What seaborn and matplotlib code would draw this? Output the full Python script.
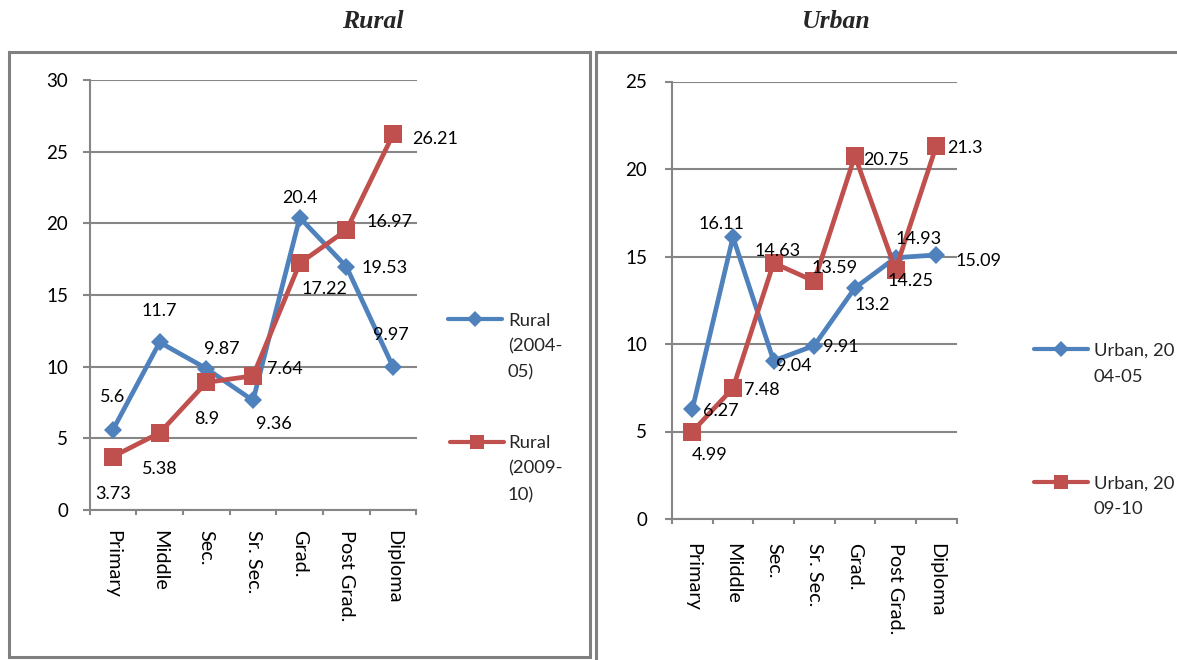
import numpy as np
import pandas as pd
import matplotlib
matplotlib.use("Agg")
import matplotlib.pyplot as plt
from matplotlib.lines import Line2D
from matplotlib.patches import Rectangle
import seaborn as sns

# ---- data -------------------------------------------------------------
levels = ["Primary", "Middle", "Sec.", "Sr. Sec.", "Grad.", "Post Grad.", "Diploma"]

rural_2004 = [5.6, 11.7, 9.87, 7.64, 20.4, 16.97, 9.97]
rural_2009 = [3.73, 5.38, 8.9, 9.36, 17.22, 19.53, 26.21]
urban_2004 = [6.27, 16.11, 9.04, 9.91, 13.2, 14.93, 15.09]
urban_2009 = [4.99, 7.48, 14.63, 13.59, 20.75, 14.25, 21.3]

rural_yticks = [0, 5, 10, 15, 20, 25, 30]
urban_yticks = [0, 5, 10, 15, 20, 25]

# data-label offsets from each point (pixels: right, up)
rural_2004_off = [(0, 34), (0, 33), (15, 21), (32, 33), (0, 21), (43, 46), (-2, 34)]
rural_2009_off = [(0, -36), (0, -35), (0, -35), (21, -47), (25, -24), (38, -36), (42, -3)]
urban_2004_off = [(28, 0), (-12, 15), (20, -4), (27, 0), (17, -15), (23, 20), (42, -5)]
urban_2009_off = [(17, -22), (29, 0), (4, 13), (20, 15), (31, -3), (15, -10), (29, 0)]

BLUE = "#4F81BD"
RED = "#C0504D"
GRAY = "#868686"

W, H = 1177, 660

sns.set_theme(style="white")
plt.rcParams["font.family"] = ["Lato", "DejaVu Sans"]
plt.rcParams["font.size"] = 13

fig = plt.figure(figsize=(W / 100, H / 100), dpi=100)


def fx(x):
    return x / W


def fy(y):
    return 1 - y / H


def make_axes(x0, x1, ytop, ybot):
    return fig.add_axes([fx(x0), fy(ybot), fx(x1) - fx(x0), fy(ytop) - fy(ybot)])


def draw_panel(ax, s1, s2, off1, off2, yticks, xpad, ypad):
    idx = np.arange(len(levels))
    df1 = pd.DataFrame({"level": idx, "value": s1})
    df2 = pd.DataFrame({"level": idx, "value": s2})
    sns.lineplot(data=df1, x="level", y="value", ax=ax, color=BLUE, marker="D",
                 markersize=9.5, markeredgewidth=0, linewidth=3.4, legend=False, zorder=3)
    sns.lineplot(data=df2, x="level", y="value", ax=ax, color=RED, marker="s",
                 markersize=13.5, markeredgewidth=0, linewidth=3.4, legend=False, zorder=4)

    for series, offs in ((s1, off1), (s2, off2)):
        for i, (v, (dx, dy)) in enumerate(zip(series, offs)):
            ax.annotate(f"{v:g}", xy=(i, v), xytext=(dx, dy), textcoords="offset pixels",
                        ha="center", va="center_baseline", fontsize=13, color="black",
                        zorder=5)

    ax.set_xlim(-0.5, len(levels) - 0.5)
    ax.set_ylim(yticks[0], yticks[-1])
    ax.set_yticks(yticks)
    ax.set_xticks(np.arange(-0.5, len(levels)), labels=[])
    ax.set_xticks(idx, labels=levels, minor=True)
    ax.set_xlabel("")
    ax.set_ylabel("")

    ax.grid(axis="y", color=GRAY, linewidth=1.5)
    ax.grid(axis="x", visible=False)
    ax.set_axisbelow(True)
    for side in ("top", "right"):
        ax.spines[side].set_visible(False)
    for side in ("left", "bottom"):
        ax.spines[side].set_color(GRAY)
        ax.spines[side].set_linewidth(1.5)

    ax.tick_params(axis="y", which="major", direction="out", length=5, width=1.5,
                   color=GRAY, labelsize=13.5, labelcolor="black", pad=ypad, left=True)
    ax.tick_params(axis="x", which="major", direction="out", length=3.6, width=1.5,
                   color=GRAY, bottom=True)
    ax.tick_params(axis="x", which="minor", length=0, pad=xpad, labelsize=14.3,
                   labelcolor="black", labelrotation=-90)
    for lab in ax.get_xticklabels(minor=True):
        lab.set_va("top")
        lab.set_ha("center")


def legend_entry(x0, x1, y, color, marker, ms, lines, tx, dys):
    xm = (x0 + x1) / 2
    fig.add_artist(Line2D([fx(x0), fx(xm), fx(x1)], [fy(y)] * 3, color=color,
                          linewidth=3.0, marker=marker, markersize=ms, markevery=[1],
                          markeredgewidth=0, transform=fig.transFigure))
    for line, dy in zip(lines, dys):
        fig.text(fx(tx), fy(y + dy), line, ha="left", va="center_baseline", fontsize=13.3)


# panel frames
fig.add_artist(Rectangle((fx(8.5), fy(657)), fx(589.5) - fx(8.5), fy(52) - fy(657),
                         fill=False, edgecolor="#808080", linewidth=2.2,
                         transform=fig.transFigure))
fig.add_artist(Rectangle((fx(596), fy(672)), fx(1190) - fx(596), fy(52) - fy(672),
                         fill=False, edgecolor="#808080", linewidth=2.2,
                         transform=fig.transFigure))

# titles
fig.text(fx(373), fy(22), "Rural", ha="center", va="center", fontsize=18.5,
         family="Liberation Serif", fontweight="bold", fontstyle="italic")
fig.text(fx(836), fy(22), "Urban", ha="center", va="center", fontsize=18.5,
         family="Liberation Serif", fontweight="bold", fontstyle="italic")

ax_r = make_axes(89.6, 416.5, 80, 510)
draw_panel(ax_r, rural_2004, rural_2009, rural_2004_off, rural_2009_off,
           rural_yticks, xpad=14.5, ypad=10.5)

ax_u = make_axes(672, 956.5, 81.5, 519)
draw_panel(ax_u, urban_2004, urban_2009, urban_2004_off, urban_2009_off,
           urban_yticks, xpad=17, ypad=13)

# legends
legend_entry(448, 502, 319, BLUE, "D", 8.5, ["Rural", "(2004-", "05)"], 508, [0, 26, 52])
legend_entry(450, 504, 442, RED, "s", 10, ["Rural", "(2009-", "10)"], 508, [0, 25, 52])
legend_entry(1034, 1088, 349, BLUE, "D", 8.5, ["Urban, 20", "04-05"], 1094, [0, 27])
legend_entry(1034, 1088, 482, RED, "s", 10, ["Urban, 20", "09-10"], 1094, [0, 25])

fig.savefig("out.png", dpi=100, facecolor="white")
